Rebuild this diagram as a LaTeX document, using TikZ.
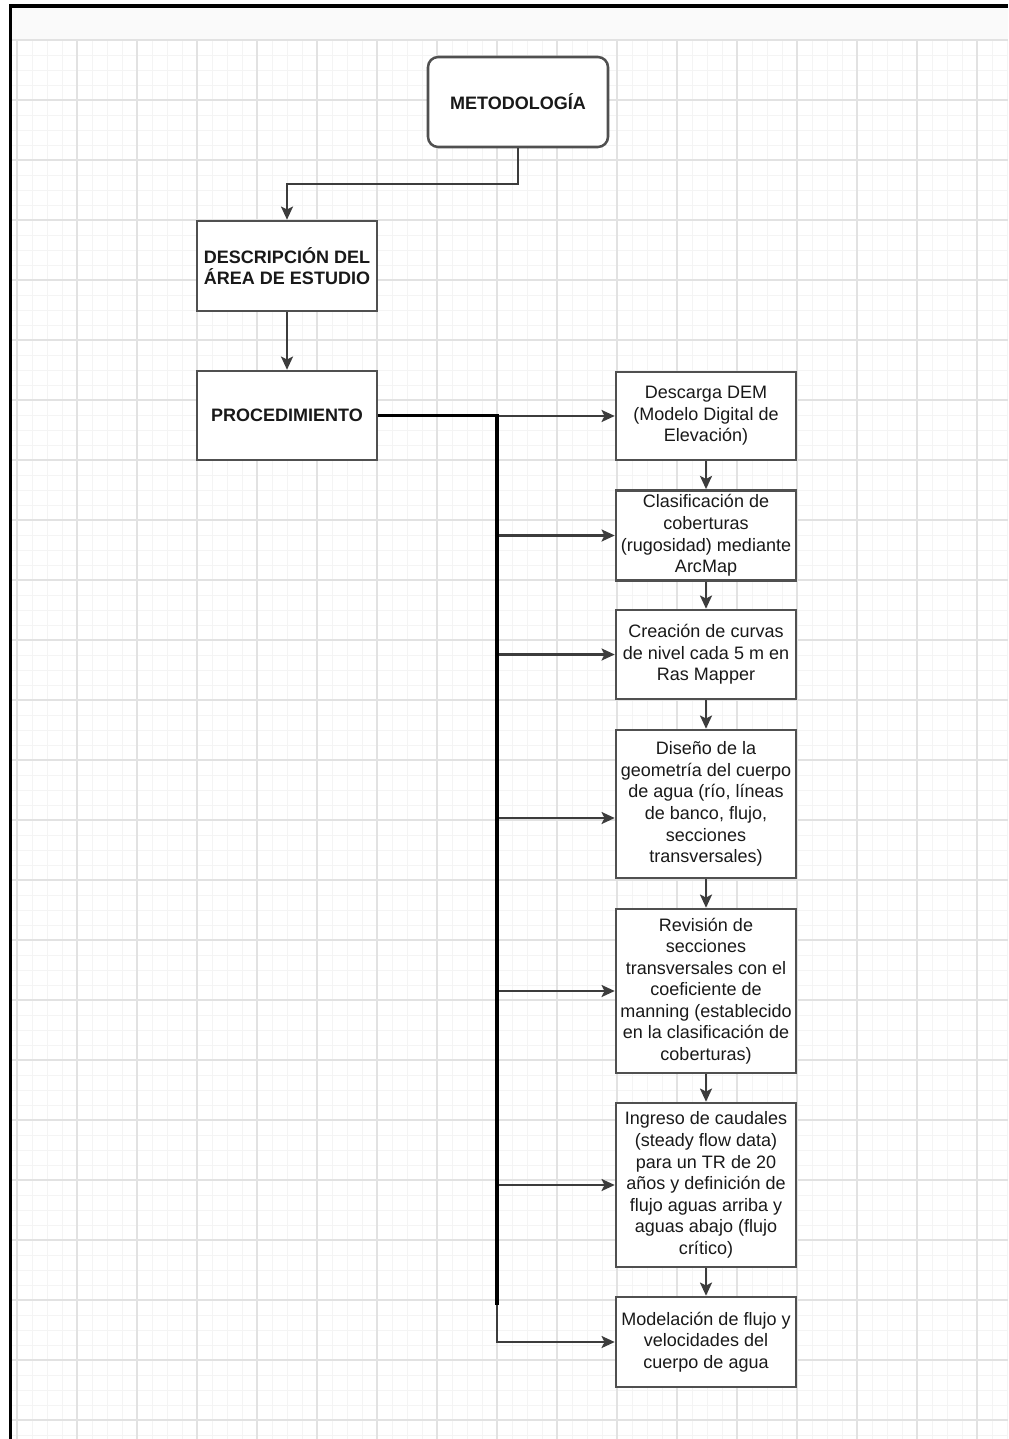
\documentclass[tikz,border=0pt]{standalone}
\usepackage{fontspec}
\setmainfont{Liberation Sans}
\usepackage{tikz}
\usetikzlibrary{positioning,calc,arrows.meta}

\definecolor{gridminor}{HTML}{F4F4F4}
\definecolor{gridmajor}{HTML}{E2E2E2}
\definecolor{headfill}{HTML}{FAFAFA}
\definecolor{boxline}{HTML}{505050}
\definecolor{linkline}{HTML}{3C3C3C}

\tikzset{
  stepnode/.style={draw=boxline, line width=1.2pt, fill=white, minimum width=3cm,
    align=center, inner xsep=1pt, inner ysep=2pt, text=black!90,
    font=\fontsize{8.54}{10.24}\selectfont},
  titlenode/.style={stepnode, font=\fontsize{8.54}{10.24}\selectfont\bfseries},
  link/.style={draw=linkline, line width=1.1pt,
    -{Stealth[length=0.22cm,width=0.2cm,inset=0.05cm]}},
  trunk/.style={draw=black, line width=1.45pt},
}

\begin{document}
\begin{tikzpicture}
    \useasboundingbox (0,0) rectangle (16.8,-23.9833);

    % Background: header band and grid
    \fill[headfill] (0.175,-0.1) rectangle (16.8,-0.6667);
    \begin{scope}[shift={(0.28333,-0.66667)}]
        \draw[gridminor, line width=0.45pt, step=0.25] (-0.1,0) grid (16.52,-23.32);
        \draw[gridmajor, line width=0.55pt, step=1] (-0.1,0) grid (16.52,-23.32);
    \end{scope}
    \draw[line width=1.5pt] (0.175,-23.9833) -- (0.175,-0.1) -- (16.8,-0.1);

    % Left column
    \node[titlenode, rounded corners=0.17cm, minimum height=1.5cm] (metodologia) at (8.6333,-1.7) {METODOLOGÍA};
    \node[titlenode, minimum height=1.5cm] (area) at (4.7833,-4.4333) {DESCRIPCIÓN DEL\\ÁREA DE ESTUDIO};
    \node[titlenode, minimum height=1.483cm] (procedimiento) at (4.7833,-6.925) {PROCEDIMIENTO};

    % Right column
    \node[stepnode, minimum height=1.467cm] (dem) at (11.7667,-6.9333) {Descarga DEM\\(Modelo Digital de\\Elevación)};
    \node[stepnode, minimum height=1.483cm] (cobert) at (11.7667,-8.925) {Clasificación de\\coberturas\\(rugosidad) mediante\\ArcMap};
    \node[stepnode, minimum height=1.483cm] (curvas) at (11.7667,-10.9083) {Creación de curvas\\de nivel cada 5 m en\\Ras Mapper};
    \node[stepnode, minimum height=2.467cm] (geom) at (11.7667,-13.4) {Diseño de la\\geometría del cuerpo\\de agua (río, líneas\\de banco, flujo,\\secciones\\transversales)};
    \node[stepnode, minimum height=2.733cm] (revision) at (11.7667,-16.5167) {Revisión de\\secciones\\transversales con el\\coeficiente de\\manning (establecido\\en la clasificación de\\coberturas)};
    \node[stepnode, minimum height=2.733cm] (caudales) at (11.7667,-19.75) {Ingreso de caudales\\(steady flow data)\\para un TR de 20\\años y definición de\\flujo aguas arriba y\\aguas abajo (flujo\\crítico)};
    \node[stepnode, minimum height=1.5cm] (modelacion) at (11.7667,-22.3667) {Modelación de flujo y\\velocidades del\\cuerpo de agua};

    % Connectors
    \draw[link] (metodologia.south) -- ++(0,-0.6) -| (area.north);
    \draw[link] (area) -- (procedimiento);

    \coordinate (bus) at (8.2833,-6.925);
    \coordinate (busend) at (8.2833,-21.75);
    \coordinate (geomin) at ([yshift=-0.2333cm]geom.west);
    \foreach \n in {dem,cobert,curvas,geomin,revision,caudales,modelacion}
        \draw[link] (bus) |- (\n);
    \draw[trunk] (procedimiento.east) -- (bus) -- (busend);

    \foreach \a/\b in {dem/cobert,cobert/curvas,curvas/geom,geom/revision,revision/caudales,caudales/modelacion}
        \draw[link] (\a) -- (\b);
\end{tikzpicture}
\end{document}
